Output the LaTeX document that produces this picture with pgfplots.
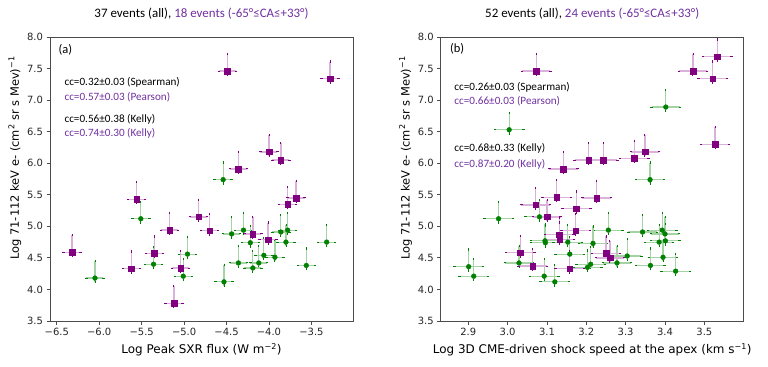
\documentclass[border=0pt]{standalone}
\usepackage{fontspec}
\setmainfont{DejaVu Sans}
\newfontfamily\calfont{Carlito}
\usepackage{pgfplots}
\pgfplotsset{compat=1.18}
\usepackage{pgfplotstable}
\definecolor{mpurple}{HTML}{800080}
\definecolor{mgreen}{HTML}{008000}
\definecolor{tpurple}{HTML}{7030A0}

\pgfplotstableread{
x y ex ep em
-4.54 5.74 0.10 0.27 0.06
-4.44 4.88 0.10 0.27 0.06
-4.30 4.94 0.10 0.27 0.06
-4.22 4.74 0.10 0.27 0.06
-3.86 4.91 0.10 0.27 0.06
-3.78 4.94 0.10 0.27 0.06
-3.80 4.75 0.10 0.27 0.06
-3.32 4.75 0.10 0.27 0.06
-4.36 4.42 0.10 0.27 0.06
-4.12 4.42 0.10 0.27 0.06
-4.19 4.34 0.10 0.27 0.06
-4.06 4.54 0.10 0.27 0.06
-3.93 4.51 0.10 0.27 0.06
-3.56 4.38 0.10 0.27 0.06
-4.53 4.12 0.10 0.27 0.06
-5.51 5.12 0.10 0.27 0.06
-6.05 4.18 0.10 0.27 0.06
-5.36 4.40 0.10 0.27 0.06
-5.01 4.21 0.10 0.27 0.06
-4.96 4.56 0.10 0.27 0.06
}\leftG

\pgfplotstableread{
x y ex ep em
-4.49 7.46 0.10 0.27 0.06
-3.28 7.34 0.10 0.27 0.06
-4.00 6.18 0.10 0.27 0.06
-3.86 6.05 0.10 0.27 0.06
-4.36 5.91 0.10 0.27 0.06
-3.78 5.35 0.10 0.27 0.06
-3.68 5.45 0.10 0.27 0.06
-4.70 4.93 0.10 0.27 0.06
-4.19 4.88 0.10 0.27 0.06
-4.01 4.79 0.10 0.27 0.06
-5.56 5.43 0.10 0.27 0.06
-6.32 4.59 0.10 0.27 0.06
-5.62 4.33 0.10 0.27 0.06
-5.35 4.57 0.10 0.27 0.06
-5.17 4.94 0.10 0.27 0.06
-5.04 4.34 0.10 0.27 0.06
-5.12 3.78 0.10 0.27 0.06
-4.83 5.15 0.10 0.27 0.06
}\leftP

\pgfplotstableread{
x y ex ep em
3.004 6.53 0.036 0.27 0.06
3.402 6.89 0.036 0.27 0.06
3.362 5.74 0.036 0.27 0.06
3.256 4.94 0.036 0.27 0.06
3.343 4.91 0.036 0.27 0.06
3.393 4.94 0.036 0.27 0.06
3.400 4.88 0.036 0.27 0.06
3.385 4.75 0.036 0.27 0.06
3.401 4.77 0.036 0.27 0.06
3.217 4.73 0.036 0.27 0.06
3.304 4.53 0.036 0.27 0.06
3.278 4.42 0.036 0.27 0.06
3.211 4.40 0.036 0.27 0.06
3.203 4.35 0.036 0.27 0.06
3.395 4.51 0.036 0.27 0.06
3.363 4.38 0.036 0.27 0.06
3.427 4.29 0.036 0.27 0.06
2.977 5.12 0.036 0.27 0.06
3.081 5.15 0.036 0.27 0.06
3.095 4.77 0.036 0.27 0.06
3.096 4.74 0.036 0.27 0.06
3.153 4.75 0.036 0.27 0.06
3.029 4.42 0.036 0.27 0.06
3.158 4.56 0.036 0.27 0.06
3.093 4.21 0.036 0.27 0.06
3.120 4.12 0.036 0.27 0.06
2.901 4.36 0.036 0.27 0.06
2.914 4.21 0.036 0.27 0.06
}\rightG

\pgfplotstableread{
x y ex ep em
3.073 7.46 0.036 0.27 0.06
3.142 5.91 0.036 0.27 0.06
3.206 6.05 0.036 0.27 0.06
3.533 7.69 0.036 0.27 0.06
3.471 7.46 0.036 0.27 0.06
3.521 7.34 0.036 0.27 0.06
3.527 6.30 0.036 0.27 0.06
3.243 6.05 0.036 0.27 0.06
3.322 6.08 0.036 0.27 0.06
3.349 6.18 0.036 0.27 0.06
3.226 5.45 0.036 0.27 0.06
3.250 4.57 0.036 0.27 0.06
3.260 4.50 0.036 0.27 0.06
3.125 5.46 0.036 0.27 0.06
3.071 5.34 0.036 0.27 0.06
3.175 5.28 0.036 0.27 0.06
3.100 5.15 0.036 0.27 0.06
3.173 4.93 0.036 0.27 0.06
3.131 4.87 0.036 0.27 0.06
3.132 4.79 0.036 0.27 0.06
3.032 4.58 0.036 0.27 0.06
3.064 4.37 0.036 0.27 0.06
3.158 4.33 0.036 0.27 0.06
}\rightP

\pgfplotsset{
  myax/.style={
    scale only axis, width=303bp, height=284bp,
    ymin=3.5, ymax=8.0,
    ytick={3.5,4.0,4.5,5.0,5.5,6.0,6.5,7.0,7.5,8.0},
    yticklabels={3.5,4.0,4.5,5.0,5.5,6.0,6.5,7.0,7.5,8.0},
    tick align=outside, xtick pos=lower, ytick pos=left,
    axis line style={black!70, line width=0.9bp},
    tick style={black!70, line width=0.8bp},
    major tick length=3.5bp,
    ticklabel style={font=\fontsize{10}{12}\selectfont, text=black!85},
    xlabel style={font=\fontsize{12}{14}\selectfont, at={(axis description cs:0.5,-0.102)}, anchor=center},
    ylabel style={font=\fontsize{11.5}{13}\selectfont, at={(axis description cs:-0.116,0.574)}, anchor=center},
    title style={font=\calfont\fontsize{13}{15}\selectfont, at={(axis description cs:0.5,1.06)}, anchor=center},
    ylabel={Log 71-112 keV e- (cm\textsuperscript{2} sr s Mev)\textsuperscript{−1}},
  },
  gpl/.style={only marks, mark=*, mark size=2.4bp, mgreen,
    error bars/.cd, x dir=both, x explicit, y dir=both, y explicit,
    error bar style={mgreen!35, line width=1.2bp},
    error mark options={mgreen, mark size=1.2bp, line width=0.9bp}},
  ppl/.style={only marks, mark=square*, mark size=2.8bp, mpurple,
    error bars/.cd, x dir=both, x explicit, y dir=both, y explicit,
    error bar style={mpurple!30, line width=1.3bp},
    error mark options={mpurple, mark size=1.2bp, line width=0.9bp}},
}

\begin{document}
\begin{tikzpicture}[x=1bp,y=1bp]
\path[use as bounding box] (0,0) rectangle (768,366);

\begin{axis}[myax, at={(50bp,45bp)}, anchor=south west,
  xmin=-6.58, xmax=-3.01,
  xtick={-6.5,-6.0,-5.5,-5.0,-4.5,-4.0,-3.5},
  xticklabels={−6.5,−6.0,−5.5,−5.0,−4.5,−4.0,−3.5},
  xlabel={Log Peak SXR flux (W m\textsuperscript{−2})},
  title={37 events (all), \textcolor{tpurple}{18 events (-65°≤CA≤+33°)}}]
\addplot[gpl] table[x=x,y=y,x error=ex,y error plus=ep,y error minus=em]{\leftG};
\addplot[ppl] table[x=x,y=y,x error=ex,y error plus=ep,y error minus=em]{\leftP};
\node[anchor=west, font=\calfont\fontsize{12.5}{14}\selectfont] at (axis cs:-6.52,7.79) {(a)};
\node[anchor=west, font=\calfont\fontsize{11.2}{13}\selectfont] at (axis cs:-6.45,7.28) {cc=0.32±0.03 (Spearman)};
\node[anchor=west, font=\calfont\fontsize{11.2}{13}\selectfont, text=tpurple] at (axis cs:-6.45,7.05) {cc=0.57±0.03 (Pearson)};
\node[anchor=west, font=\calfont\fontsize{11.2}{13}\selectfont] at (axis cs:-6.45,6.70) {cc=0.56±0.38 (Kelly)};
\node[anchor=west, font=\calfont\fontsize{11.2}{13}\selectfont, text=tpurple] at (axis cs:-6.45,6.47) {cc=0.74±0.30 (Kelly)};
\end{axis}

\begin{axis}[myax, at={(440.7bp,45bp)}, anchor=south west,
  xmin=2.83, xmax=3.60,
  xtick={2.9,3.0,3.1,3.2,3.3,3.4,3.5},
  xticklabels={2.9,3.0,3.1,3.2,3.3,3.4,3.5},
  xlabel={Log 3D CME-driven shock speed at the apex (km s\textsuperscript{−1})},
  title={52 events (all), \textcolor{tpurple}{24 events (-65°≤CA≤+33°)}}]
\addplot[gpl] table[x=x,y=y,x error=ex,y error plus=ep,y error minus=em]{\rightG};
\addplot[ppl] table[x=x,y=y,x error=ex,y error plus=ep,y error minus=em]{\rightP};
\node[anchor=west, font=\calfont\fontsize{12.5}{14}\selectfont] at (axis cs:2.845,7.82) {(b)};
\node[anchor=west, font=\calfont\fontsize{11.2}{13}\selectfont] at (axis cs:2.856,7.21) {cc=0.26±0.03 (Spearman)};
\node[anchor=west, font=\calfont\fontsize{11.2}{13}\selectfont, text=tpurple] at (axis cs:2.856,6.99) {cc=0.66±0.03 (Pearson)};
\node[anchor=west, font=\calfont\fontsize{11.2}{13}\selectfont] at (axis cs:2.856,6.23) {cc=0.68±0.33 (Kelly)};
\node[anchor=west, font=\calfont\fontsize{11.2}{13}\selectfont, text=tpurple] at (axis cs:2.856,5.99) {cc=0.87±0.20 (Kelly)};
\end{axis}
\end{tikzpicture}
\end{document}
